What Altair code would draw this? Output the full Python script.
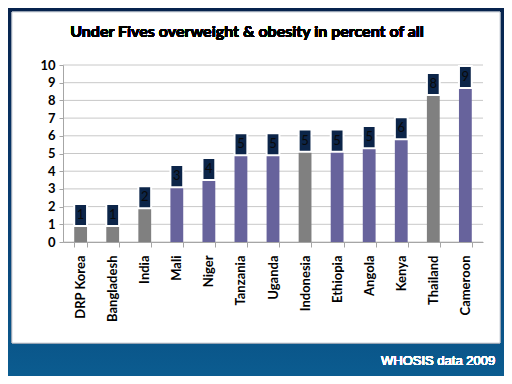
import altair as alt
import pandas as pd

countries = ["DRP Korea", "Bangladesh", "India", "Mali", "Niger", "Tanzania", "Uganda",
             "Indonesia", "Ethiopia", "Angola", "Kenya", "Thailand", "Cameroon"]
values = [0.9, 0.9, 1.9, 3.1, 3.5, 4.9, 4.9, 5.1, 5.1, 5.3, 5.8, 8.3, 8.7]
labels = ["1", "1", "2", "3", "4", "5", "5", "5", "5", "5", "6", "8", "9"]
groups = ["Asia", "Asia", "Asia", "Africa", "Africa", "Africa", "Africa",
          "Asia", "Africa", "Africa", "Africa", "Asia", "Africa"]
y_ticks = [0, 1, 2, 3, 4, 5, 6, 7, 8, 9, 10]
title_text = "Under Fives overweight & obesity in percent of all"
footer_text = "WHOSIS data 2009"

df = pd.DataFrame({"country": countries, "v": values, "label": labels, "group": groups})
ticks_df = pd.DataFrame({"t": y_ticks})

W, H = 420, 177
PL, PT = 55, 57
CW, CH = 496, 368

x_axis = alt.Axis(labelAngle=-90, labelFont="Lato", labelFontSize=13,
                  labelFontWeight="bold", labelColor="#000000",
                  labelPadding=8, tickBand="extent", tickSize=5,
                  tickColor="#a6a6a6", domainColor="#a6a6a6", zindex=1,
                  labelOverlap=False, title=None)
y_axis = alt.Axis(values=y_ticks, labelFont="Lato", labelFontSize=13,
                  labelFontWeight="bold", labelColor="#000000", grid=False,
                  tickColor="#a6a6a6", tickSize=4, labelOverlap=False,
                  domainColor="#a6a6a6", labelPadding=4, zindex=1, title=None)
x_scale = alt.Scale(paddingInner=0.6, paddingOuter=0.35)
y_scale = alt.Scale(domain=[0, 10], nice=False)

bg = alt.Chart(df).mark_rect(
    fill=alt.Gradient(gradient="linear",
                      stops=[alt.GradientStop(color="#07234d", offset=0),
                             alt.GradientStop(color="#083a6e", offset=0.5),
                             alt.GradientStop(color="#0b5c90", offset=1)],
                      x1=0, x2=0, y1=0, y2=1)
).encode(x=alt.value(-PL), x2=alt.value(CW - PL), y=alt.value(-PT), y2=alt.value(CH - PT))

panel = alt.Chart(df).mark_rect(fill="white", stroke="#9aa6b5", strokeWidth=0.5).encode(
    x=alt.value(12 - 63), x2=alt.value(500 - 63), y=alt.value(12 - 65), y2=alt.value(343 - 65))

grid = alt.Chart(ticks_df).mark_rule(color="#c8c8c8", strokeWidth=1).encode(
    y=alt.Y("t:Q", scale=y_scale, axis=y_axis))

base = alt.Chart(df)

lower = base.mark_bar().encode(
    x=alt.X("country:N", sort=countries, scale=x_scale, axis=x_axis),
    y=alt.Y("v:Q", scale=y_scale, axis=y_axis),
    color=alt.Color("group:N", scale=alt.Scale(domain=["Asia", "Africa"],
                                               range=["#808080", "#67639c"]), legend=None),
)

box = base.transform_calculate(top="datum.v + 1.25").mark_bar(
    color="#0c2549", stroke="white", strokeWidth=2).encode(
    x=alt.X("country:N", sort=countries, scale=x_scale, axis=x_axis),
    y=alt.Y("v:Q", scale=y_scale, axis=y_axis),
    y2="top:Q",
)

txt = base.transform_calculate(mid="datum.v + 0.62").mark_text(
    font="Lato", fontSize=13, color="#0a0a0a", baseline="middle").encode(
    x=alt.X("country:N", sort=countries, scale=x_scale, axis=x_axis),
    y=alt.Y("mid:Q", scale=y_scale, axis=y_axis),
    text="label:N",
)

title = alt.Chart(df).mark_text(
    text=title_text, font="Lato", fontSize=16, fontWeight="bold", color="#000000",
    align="center", baseline="alphabetic").encode(
    x=alt.value(247 - 63), y=alt.value(37 - 65))

footer = alt.Chart(df).mark_text(
    text=footer_text, font="Liberation Sans", fontSize=13, fontWeight="normal",
    color="white", align="left", baseline="alphabetic").encode(
    x=alt.value(381 - 63), y=alt.value(365 - 65))

chart = alt.layer(bg, panel, grid, lower, box, txt, title, footer).properties(
    width=W, height=H,
    autosize=alt.AutoSizeParams(type="none"),
    padding={"left": PL, "top": PT, "right": CW - PL - W, "bottom": CH - PT - H},
    background="#07234d",
).configure_view(stroke=None)

chart.save("out.html", embed_options={"renderer": "svg", "actions": False})
